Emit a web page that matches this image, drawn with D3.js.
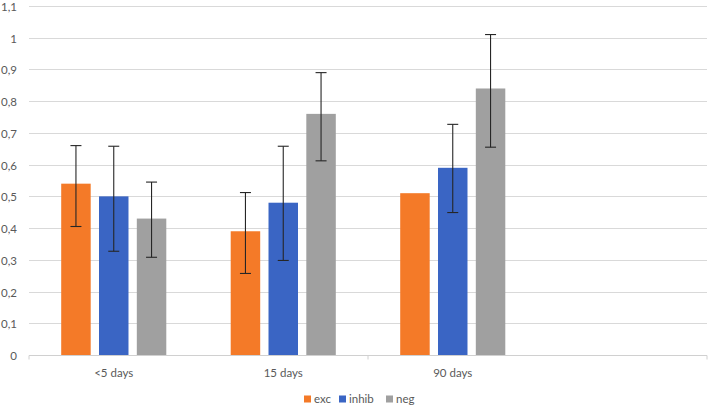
<!DOCTYPE html>
<html>
<head>
<meta charset="utf-8">
<script src="https://cdn.jsdelivr.net/npm/d3@7"></script>
<style>
  body { margin: 0; background: #fff; }
  text { font-family: Lato, "Open Sans", sans-serif; fill: #595959; }
</style>
</head>
<body>
<div id="chart"></div>
<script>
// data
const categories = ["<5 days", "15 days", "90 days", ""];
const seriesNames = ["exc", "inhib", "neg"];
const seriesColors = ["#f47a28", "#3a65c4", "#a0a0a0"];
const excValues = [0.54, 0.39, 0.51];
const inhibValues = [0.50, 0.48, 0.59];
const negValues = [0.43, 0.76, 0.84];
// error bar ends [low, high], null = no error bar
const excErr = [[0.405, 0.66], [0.257, 0.512], null];
const inhibErr = [[0.327, 0.658], [0.298, 0.658], [0.449, 0.727]];
const negErr = [[0.308, 0.545], [0.612, 0.89], [0.655, 1.01]];
const yTicks = [0, 0.1, 0.2, 0.3, 0.4, 0.5, 0.6, 0.7, 0.8, 0.9, 1, 1.1];

const values = [excValues, inhibValues, negValues];
const errs = [excErr, inhibErr, negErr];

const width = 710, height = 408;
const margin = { top: 6, left: 29, right: 3, bottom: 53 };
const iwidth = width - margin.left - margin.right;
const iheight = height - margin.top - margin.bottom;

const svg = d3.select("#chart").append("svg")
    .attr("width", width)
    .attr("height", height);

const g = svg.append("g").attr("transform", `translate(${margin.left},${margin.top})`);

const y = d3.scaleLinear().domain([0, 1.1]).range([iheight, 0]);
const x = d3.scaleBand().domain(categories.map((d, i) => i)).range([0, iwidth]);
const groupW = x.bandwidth() * 0.62;
const x1 = d3.scaleBand().domain(seriesNames).range([0, groupW]).paddingInner(0.22);
const fmt = d => String(d).replace(".", ",");

// grid
g.append("g")
    .selectAll("line")
    .data(yTicks.slice(1))
    .enter().append("line")
    .attr("x1", 0).attr("x2", iwidth)
    .attr("y1", d => Math.round(y(d)) + 0.5)
    .attr("y2", d => Math.round(y(d)) + 0.5)
    .attr("stroke", "#d9d9d9");

// y labels
g.append("g")
    .selectAll("text")
    .data(yTicks)
    .enter().append("text")
    .attr("x", -12)
    .attr("y", d => y(d) + 1)
    .attr("dy", "0.35em")
    .attr("text-anchor", "end")
    .style("font-size", "11.5px")
    .text(fmt);

// bars
const data = [];
categories.forEach((c, i) => {
    seriesNames.forEach((s, j) => {
        if (values[j][i] !== undefined) {
            data.push({ cat: i, series: s, j: j, value: values[j][i], err: errs[j][i] });
        }
    });
});

const barsG = g.append("g");
barsG.selectAll("rect")
    .data(data)
    .enter().append("rect")
    .attr("x", d => x(d.cat) + (x.bandwidth() - groupW) / 2 + x1(d.series))
    .attr("y", d => y(d.value))
    .attr("width", x1.bandwidth())
    .attr("height", d => iheight - y(d.value))
    .attr("fill", d => seriesColors[d.j]);

// error bars
const errG = g.append("g")
    .selectAll("g")
    .data(data.filter(d => d.err))
    .enter().append("g")
    .attr("stroke", "#262626")
    .attr("stroke-width", 1.1);
const cx = d => x(d.cat) + (x.bandwidth() - groupW) / 2 + x1(d.series) + x1.bandwidth() / 2;
errG.append("line")
    .attr("x1", cx).attr("x2", cx)
    .attr("y1", d => y(d.err[0])).attr("y2", d => y(d.err[1]));
errG.append("line")
    .attr("x1", d => cx(d) - 5.5).attr("x2", d => cx(d) + 5.5)
    .attr("y1", d => y(d.err[1])).attr("y2", d => y(d.err[1]));
errG.append("line")
    .attr("x1", d => cx(d) - 5.5).attr("x2", d => cx(d) + 5.5)
    .attr("y1", d => y(d.err[0])).attr("y2", d => y(d.err[0]));

// x axis
const xAxis = g.append("g").attr("transform", `translate(0,${Math.round(iheight) + 0.5})`);
xAxis.append("line")
    .attr("x1", 0).attr("x2", iwidth)
    .attr("stroke", "#d0d0d0");
xAxis.selectAll("line.tick")
    .data([0, 2, 4])
    .enter().append("line")
    .attr("class", "tick")
    .attr("x1", d => d * x.bandwidth()).attr("x2", d => d * x.bandwidth())
    .attr("y1", 0).attr("y2", 4)
    .attr("stroke", "#d0d0d0");
xAxis.selectAll("text")
    .data(categories)
    .enter().append("text")
    .attr("x", (d, i) => x(i) + x.bandwidth() / 2)
    .attr("y", 17)
    .attr("dy", "0.35em")
    .attr("text-anchor", "middle")
    .style("font-size", "11.5px")
    .text(d => d);

// legend
const legend = svg.append("g").attr("transform", `translate(0,399)`);
const legendX = [304, 339, 386];
const item = legend.selectAll("g")
    .data(seriesNames)
    .enter().append("g")
    .attr("transform", (d, i) => `translate(${legendX[i]},0)`);
item.append("rect")
    .attr("x", 0).attr("y", -3.5)
    .attr("width", 7).attr("height", 7)
    .attr("fill", (d, i) => seriesColors[i]);
item.append("text")
    .attr("x", 10).attr("dy", "0.35em")
    .style("font-size", "11.5px")
    .text(d => d);
</script>
</body>
</html>
